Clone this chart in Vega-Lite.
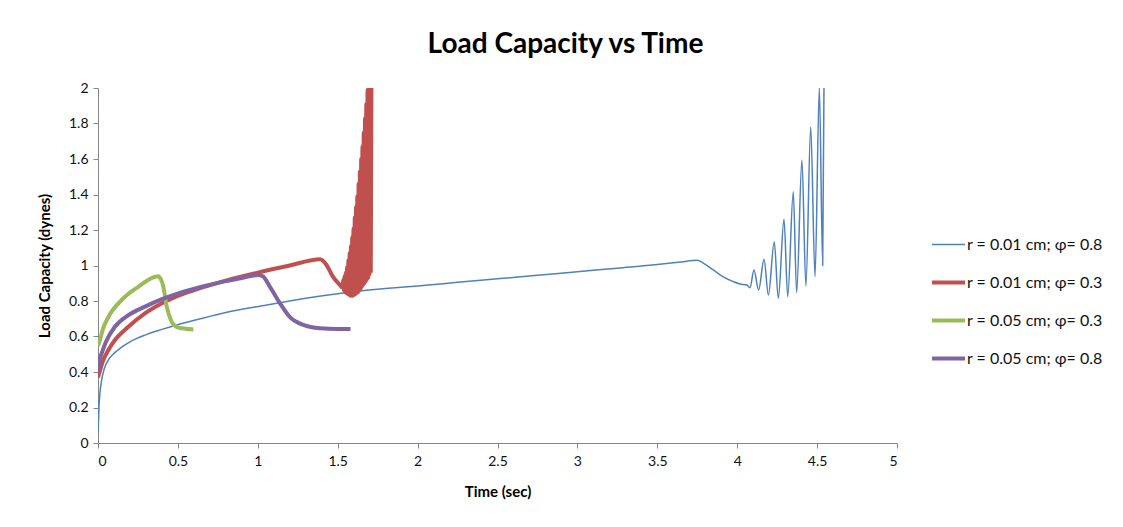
{
  "$schema": "https://vega.github.io/schema/vega-lite/v6.json",
  "width": 799,
  "height": 355,
  "autosize": {"type": "none"},
  "padding": {"left": 98, "top": 88, "right": 226, "bottom": 84},
  "background": "white",
  "title": {"text": "Load Capacity vs Time", "font": "Lato", "fontSize": 28, "fontWeight": "bold", "color": "#000000", "anchor": "middle", "dx": 68, "offset": 22},
  "config": {
    "view": {"stroke": null},
    "axis": {"labelFont": "Lato", "labelFontSize": 14, "labelColor": "#111111", "titleFont": "Lato", "titleFontSize": 15, "titleFontWeight": "bold", "titleColor": "#000000", "domainColor": "#868686", "tickColor": "#868686", "tickSize": 5, "grid": false},
    "legend": {"labelFont": "Lato", "labelFontSize": 16, "labelColor": "#111111"}
  },
  "data": {"values": [
    {"s": "r = 0.01 cm; φ= 0.8", "t": 0, "v": 0.05},
    {"s": "r = 0.01 cm; φ= 0.8", "t": 0.002, "v": 0.09},
    {"s": "r = 0.01 cm; φ= 0.8", "t": 0.006, "v": 0.2},
    {"s": "r = 0.01 cm; φ= 0.8", "t": 0.012, "v": 0.28},
    {"s": "r = 0.01 cm; φ= 0.8", "t": 0.023, "v": 0.355},
    {"s": "r = 0.01 cm; φ= 0.8", "t": 0.04, "v": 0.42},
    {"s": "r = 0.01 cm; φ= 0.8", "t": 0.065, "v": 0.468},
    {"s": "r = 0.01 cm; φ= 0.8", "t": 0.1, "v": 0.505},
    {"s": "r = 0.01 cm; φ= 0.8", "t": 0.148, "v": 0.54},
    {"s": "r = 0.01 cm; φ= 0.8", "t": 0.2, "v": 0.57},
    {"s": "r = 0.01 cm; φ= 0.8", "t": 0.294, "v": 0.608},
    {"s": "r = 0.01 cm; φ= 0.8", "t": 0.4, "v": 0.64},
    {"s": "r = 0.01 cm; φ= 0.8", "t": 0.503, "v": 0.668},
    {"s": "r = 0.01 cm; φ= 0.8", "t": 0.64, "v": 0.7},
    {"s": "r = 0.01 cm; φ= 0.8", "t": 0.8, "v": 0.735},
    {"s": "r = 0.01 cm; φ= 0.8", "t": 1.056, "v": 0.777},
    {"s": "r = 0.01 cm; φ= 0.8", "t": 1.3, "v": 0.815},
    {"s": "r = 0.01 cm; φ= 0.8", "t": 1.556, "v": 0.848},
    {"s": "r = 0.01 cm; φ= 0.8", "t": 1.8, "v": 0.87},
    {"s": "r = 0.01 cm; φ= 0.8", "t": 2.0, "v": 0.885},
    {"s": "r = 0.01 cm; φ= 0.8", "t": 2.25, "v": 0.905},
    {"s": "r = 0.01 cm; φ= 0.8", "t": 2.5, "v": 0.925},
    {"s": "r = 0.01 cm; φ= 0.8", "t": 2.75, "v": 0.945},
    {"s": "r = 0.01 cm; φ= 0.8", "t": 3.0, "v": 0.965},
    {"s": "r = 0.01 cm; φ= 0.8", "t": 3.25, "v": 0.985},
    {"s": "r = 0.01 cm; φ= 0.8", "t": 3.5, "v": 1.005},
    {"s": "r = 0.01 cm; φ= 0.8", "t": 3.65, "v": 1.02},
    {"s": "r = 0.01 cm; φ= 0.8", "t": 3.75, "v": 1.03},
    {"s": "r = 0.01 cm; φ= 0.8", "t": 3.79, "v": 1.012},
    {"s": "r = 0.01 cm; φ= 0.8", "t": 3.85, "v": 0.975},
    {"s": "r = 0.01 cm; φ= 0.8", "t": 3.91, "v": 0.937},
    {"s": "r = 0.01 cm; φ= 0.8", "t": 3.976, "v": 0.909},
    {"s": "r = 0.01 cm; φ= 0.8", "t": 4.017, "v": 0.896},
    {"s": "r = 0.01 cm; φ= 0.8", "t": 4.06, "v": 0.89},
    {"s": "r = 0.01 cm; φ= 0.8", "t": 4.08, "v": 0.875},
    {"s": "r = 0.01 cm; φ= 0.8", "t": 4.105, "v": 0.975},
    {"s": "r = 0.01 cm; φ= 0.8", "t": 4.134, "v": 0.862},
    {"s": "r = 0.01 cm; φ= 0.8", "t": 4.168, "v": 1.035},
    {"s": "r = 0.01 cm; φ= 0.8", "t": 4.195, "v": 0.834},
    {"s": "r = 0.01 cm; φ= 0.8", "t": 4.232, "v": 1.134},
    {"s": "r = 0.01 cm; φ= 0.8", "t": 4.257, "v": 0.815},
    {"s": "r = 0.01 cm; φ= 0.8", "t": 4.293, "v": 1.26},
    {"s": "r = 0.01 cm; φ= 0.8", "t": 4.316, "v": 0.824},
    {"s": "r = 0.01 cm; φ= 0.8", "t": 4.351, "v": 1.416},
    {"s": "r = 0.01 cm; φ= 0.8", "t": 4.372, "v": 0.847},
    {"s": "r = 0.01 cm; φ= 0.8", "t": 4.405, "v": 1.594},
    {"s": "r = 0.01 cm; φ= 0.8", "t": 4.43, "v": 0.885},
    {"s": "r = 0.01 cm; φ= 0.8", "t": 4.46, "v": 1.78},
    {"s": "r = 0.01 cm; φ= 0.8", "t": 4.487, "v": 0.937},
    {"s": "r = 0.01 cm; φ= 0.8", "t": 4.514, "v": 2.0},
    {"s": "r = 0.01 cm; φ= 0.8", "t": 4.535, "v": 1.0},
    {"s": "r = 0.01 cm; φ= 0.8", "t": 4.543, "v": 2.0},

    {"s": "r = 0.01 cm; φ= 0.3", "t": 0, "v": 0.37},
    {"s": "r = 0.01 cm; φ= 0.3", "t": 0.01, "v": 0.4},
    {"s": "r = 0.01 cm; φ= 0.3", "t": 0.03, "v": 0.46},
    {"s": "r = 0.01 cm; φ= 0.3", "t": 0.065, "v": 0.524},
    {"s": "r = 0.01 cm; φ= 0.3", "t": 0.106, "v": 0.58},
    {"s": "r = 0.01 cm; φ= 0.3", "t": 0.19, "v": 0.655},
    {"s": "r = 0.01 cm; φ= 0.3", "t": 0.294, "v": 0.73},
    {"s": "r = 0.01 cm; φ= 0.3", "t": 0.4, "v": 0.787},
    {"s": "r = 0.01 cm; φ= 0.3", "t": 0.503, "v": 0.83},
    {"s": "r = 0.01 cm; φ= 0.3", "t": 0.65, "v": 0.875},
    {"s": "r = 0.01 cm; φ= 0.3", "t": 0.8, "v": 0.915},
    {"s": "r = 0.01 cm; φ= 0.3", "t": 1.0, "v": 0.96},
    {"s": "r = 0.01 cm; φ= 0.3", "t": 1.2, "v": 1.0},
    {"s": "r = 0.01 cm; φ= 0.3", "t": 1.39, "v": 1.035},
    {"s": "r = 0.01 cm; φ= 0.3", "t": 1.43, "v": 1.003},
    {"s": "r = 0.01 cm; φ= 0.3", "t": 1.47, "v": 0.937},
    {"s": "r = 0.01 cm; φ= 0.3", "t": 1.514, "v": 0.89},
    {"s": "r = 0.01 cm; φ= 0.3", "t": 1.53, "v": 0.875},
    {"s": "r = 0.01 cm; φ= 0.3", "t": 1.535, "v": 0.92},
    {"s": "r = 0.01 cm; φ= 0.3", "t": 1.539, "v": 0.86},
    {"s": "r = 0.01 cm; φ= 0.3", "t": 1.543, "v": 0.94},
    {"s": "r = 0.01 cm; φ= 0.3", "t": 1.547, "v": 0.85},
    {"s": "r = 0.01 cm; φ= 0.3", "t": 1.551, "v": 0.96},
    {"s": "r = 0.01 cm; φ= 0.3", "t": 1.555, "v": 0.845},
    {"s": "r = 0.01 cm; φ= 0.3", "t": 1.559, "v": 0.99},
    {"s": "r = 0.01 cm; φ= 0.3", "t": 1.563, "v": 0.84},
    {"s": "r = 0.01 cm; φ= 0.3", "t": 1.567, "v": 1.03},
    {"s": "r = 0.01 cm; φ= 0.3", "t": 1.571, "v": 0.835},
    {"s": "r = 0.01 cm; φ= 0.3", "t": 1.575, "v": 1.07},
    {"s": "r = 0.01 cm; φ= 0.3", "t": 1.579, "v": 0.83},
    {"s": "r = 0.01 cm; φ= 0.3", "t": 1.583, "v": 1.11},
    {"s": "r = 0.01 cm; φ= 0.3", "t": 1.587, "v": 0.83},
    {"s": "r = 0.01 cm; φ= 0.3", "t": 1.591, "v": 1.16},
    {"s": "r = 0.01 cm; φ= 0.3", "t": 1.595, "v": 0.83},
    {"s": "r = 0.01 cm; φ= 0.3", "t": 1.599, "v": 1.21},
    {"s": "r = 0.01 cm; φ= 0.3", "t": 1.603, "v": 0.835},
    {"s": "r = 0.01 cm; φ= 0.3", "t": 1.607, "v": 1.27},
    {"s": "r = 0.01 cm; φ= 0.3", "t": 1.611, "v": 0.84},
    {"s": "r = 0.01 cm; φ= 0.3", "t": 1.615, "v": 1.33},
    {"s": "r = 0.01 cm; φ= 0.3", "t": 1.619, "v": 0.845},
    {"s": "r = 0.01 cm; φ= 0.3", "t": 1.623, "v": 1.39},
    {"s": "r = 0.01 cm; φ= 0.3", "t": 1.627, "v": 0.85},
    {"s": "r = 0.01 cm; φ= 0.3", "t": 1.631, "v": 1.46},
    {"s": "r = 0.01 cm; φ= 0.3", "t": 1.635, "v": 0.86},
    {"s": "r = 0.01 cm; φ= 0.3", "t": 1.639, "v": 1.53},
    {"s": "r = 0.01 cm; φ= 0.3", "t": 1.643, "v": 0.87},
    {"s": "r = 0.01 cm; φ= 0.3", "t": 1.647, "v": 1.6},
    {"s": "r = 0.01 cm; φ= 0.3", "t": 1.651, "v": 0.88},
    {"s": "r = 0.01 cm; φ= 0.3", "t": 1.655, "v": 1.67},
    {"s": "r = 0.01 cm; φ= 0.3", "t": 1.659, "v": 0.89},
    {"s": "r = 0.01 cm; φ= 0.3", "t": 1.663, "v": 1.75},
    {"s": "r = 0.01 cm; φ= 0.3", "t": 1.667, "v": 0.9},
    {"s": "r = 0.01 cm; φ= 0.3", "t": 1.671, "v": 1.83},
    {"s": "r = 0.01 cm; φ= 0.3", "t": 1.675, "v": 0.91},
    {"s": "r = 0.01 cm; φ= 0.3", "t": 1.679, "v": 1.91},
    {"s": "r = 0.01 cm; φ= 0.3", "t": 1.683, "v": 0.92},
    {"s": "r = 0.01 cm; φ= 0.3", "t": 1.687, "v": 1.99},
    {"s": "r = 0.01 cm; φ= 0.3", "t": 1.691, "v": 0.93},
    {"s": "r = 0.01 cm; φ= 0.3", "t": 1.695, "v": 2.0},
    {"s": "r = 0.01 cm; φ= 0.3", "t": 1.699, "v": 0.95},
    {"s": "r = 0.01 cm; φ= 0.3", "t": 1.703, "v": 2.0},
    {"s": "r = 0.01 cm; φ= 0.3", "t": 1.707, "v": 0.97},
    {"s": "r = 0.01 cm; φ= 0.3", "t": 1.711, "v": 2.0},

    {"s": "r = 0.05 cm; φ= 0.3", "t": 0, "v": 0.55},
    {"s": "r = 0.05 cm; φ= 0.3", "t": 0.0125, "v": 0.58},
    {"s": "r = 0.05 cm; φ= 0.3", "t": 0.03, "v": 0.64},
    {"s": "r = 0.05 cm; φ= 0.3", "t": 0.065, "v": 0.71},
    {"s": "r = 0.05 cm; φ= 0.3", "t": 0.148, "v": 0.806},
    {"s": "r = 0.05 cm; φ= 0.3", "t": 0.252, "v": 0.88},
    {"s": "r = 0.05 cm; φ= 0.3", "t": 0.357, "v": 0.937},
    {"s": "r = 0.05 cm; φ= 0.3", "t": 0.376, "v": 0.94},
    {"s": "r = 0.05 cm; φ= 0.3", "t": 0.395, "v": 0.92},
    {"s": "r = 0.05 cm; φ= 0.3", "t": 0.409, "v": 0.88},
    {"s": "r = 0.05 cm; φ= 0.3", "t": 0.43, "v": 0.768},
    {"s": "r = 0.05 cm; φ= 0.3", "t": 0.461, "v": 0.683},
    {"s": "r = 0.05 cm; φ= 0.3", "t": 0.49, "v": 0.655},
    {"s": "r = 0.05 cm; φ= 0.3", "t": 0.524, "v": 0.646},
    {"s": "r = 0.05 cm; φ= 0.3", "t": 0.597, "v": 0.64},

    {"s": "r = 0.05 cm; φ= 0.8", "t": 0, "v": 0.4},
    {"s": "r = 0.05 cm; φ= 0.8", "t": 0.01, "v": 0.47},
    {"s": "r = 0.05 cm; φ= 0.8", "t": 0.023, "v": 0.505},
    {"s": "r = 0.05 cm; φ= 0.8", "t": 0.05, "v": 0.57},
    {"s": "r = 0.05 cm; φ= 0.8", "t": 0.106, "v": 0.655},
    {"s": "r = 0.05 cm; φ= 0.8", "t": 0.19, "v": 0.72},
    {"s": "r = 0.05 cm; φ= 0.8", "t": 0.294, "v": 0.768},
    {"s": "r = 0.05 cm; φ= 0.8", "t": 0.4, "v": 0.81},
    {"s": "r = 0.05 cm; φ= 0.8", "t": 0.503, "v": 0.843},
    {"s": "r = 0.05 cm; φ= 0.8", "t": 0.649, "v": 0.88},
    {"s": "r = 0.05 cm; φ= 0.8", "t": 0.784, "v": 0.909},
    {"s": "r = 0.05 cm; φ= 0.8", "t": 0.9, "v": 0.93},
    {"s": "r = 0.05 cm; φ= 0.8", "t": 1.0, "v": 0.946},
    {"s": "r = 0.05 cm; φ= 0.8", "t": 1.03, "v": 0.94},
    {"s": "r = 0.05 cm; φ= 0.8", "t": 1.076, "v": 0.88},
    {"s": "r = 0.05 cm; φ= 0.8", "t": 1.139, "v": 0.787},
    {"s": "r = 0.05 cm; φ= 0.8", "t": 1.2, "v": 0.71},
    {"s": "r = 0.05 cm; φ= 0.8", "t": 1.285, "v": 0.665},
    {"s": "r = 0.05 cm; φ= 0.8", "t": 1.39, "v": 0.646},
    {"s": "r = 0.05 cm; φ= 0.8", "t": 1.5, "v": 0.642},
    {"s": "r = 0.05 cm; φ= 0.8", "t": 1.58, "v": 0.642}
  ]},
  "encoding": {
    "x": {"field": "t", "type": "quantitative", "title": "Time (sec)",
      "scale": {"domain": [0, 5], "nice": false},
      "axis": {"values": [0, 0.5, 1, 1.5, 2, 2.5, 3, 3.5, 4, 4.5, 5], "format": "~g", "labelPadding": 6, "titlePadding": 16}},
    "y": {"field": "v", "type": "quantitative", "title": "Load Capacity (dynes)",
      "scale": {"domain": [0, 2], "nice": false},
      "axis": {"values": [0, 0.2, 0.4, 0.6, 0.8, 1, 1.2, 1.4, 1.6, 1.8, 2], "format": "~g", "labelPadding": 5, "titlePadding": 16}},
    "color": {"field": "s", "type": "nominal", "title": null,
      "scale": {"domain": ["r = 0.01 cm; φ= 0.8", "r = 0.01 cm; φ= 0.3", "r = 0.05 cm; φ= 0.3", "r = 0.05 cm; φ= 0.8"], "range": ["#4F81BD", "#C0504D", "#9BBB59", "#8064A2"]},
      "legend": {"orient": "none", "legendX": 832, "legendY": 139, "symbolType": "stroke", "symbolSize": 1089, "rowPadding": 11, "labelOffset": 0}},
    "strokeWidth": {"field": "s", "type": "nominal", "title": null,
      "scale": {"type": "ordinal", "domain": ["r = 0.01 cm; φ= 0.8", "r = 0.01 cm; φ= 0.3", "r = 0.05 cm; φ= 0.3", "r = 0.05 cm; φ= 0.8"], "range": [1.5, 4, 4, 4]},
      "legend": {"orient": "none", "legendX": 832, "legendY": 139, "symbolType": "stroke", "symbolSize": 1089, "rowPadding": 11, "labelOffset": 0}}
  },
  "layer": [
    {"transform": [{"filter": "datum.s === 'r = 0.01 cm; φ= 0.8'"}], "mark": {"type": "line", "interpolate": "monotone", "clip": true}},
    {"transform": [{"filter": "datum.s === 'r = 0.01 cm; φ= 0.3'"}], "mark": {"type": "line", "interpolate": "monotone", "clip": true}},
    {"transform": [{"filter": "datum.s === 'r = 0.05 cm; φ= 0.3'"}], "mark": {"type": "line", "interpolate": "monotone", "clip": true}},
    {"transform": [{"filter": "datum.s === 'r = 0.05 cm; φ= 0.8'"}], "mark": {"type": "line", "interpolate": "monotone", "clip": true}}
  ]
}
